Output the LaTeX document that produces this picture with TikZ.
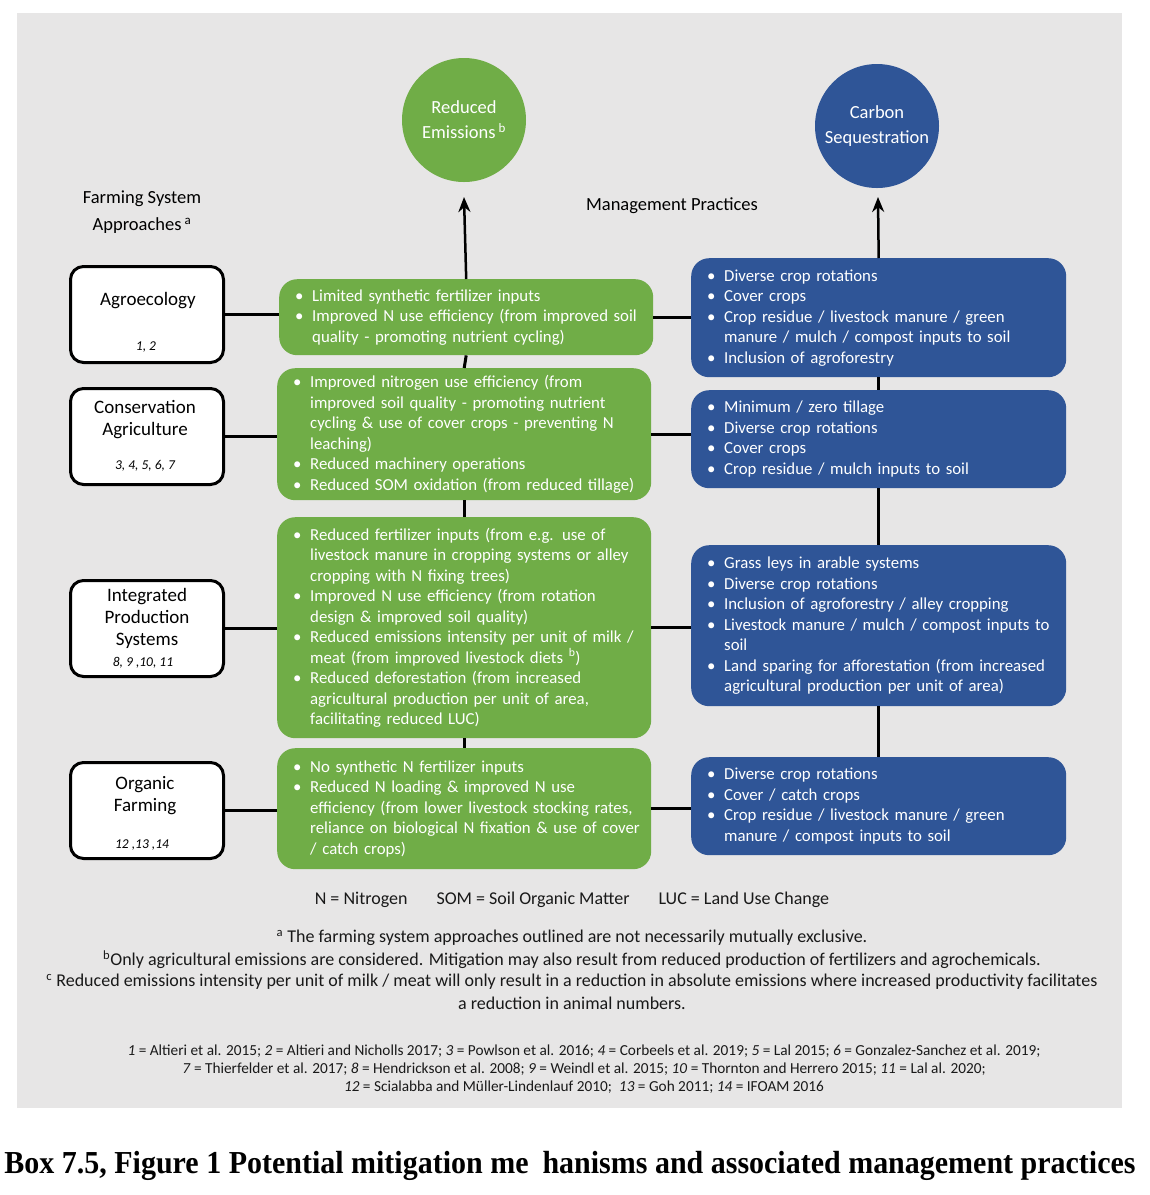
\documentclass[tikz,border=0pt]{standalone}
\usepackage{fontspec}
\setmainfont{Carlito}
\newfontfamily\capfont[FakeStretch=0.937]{Liberation Serif}
\usetikzlibrary{arrows.meta}
\definecolor{bgc}{HTML}{E7E6E6}
\definecolor{grc}{HTML}{70AD47}
\definecolor{blc}{HTML}{2F5597}
\newcommand{\bu}{\makebox[17pt][l]{\textbullet}}
\newcommand{\ct}{\hspace*{17pt}}
\newcommand{\boxfont}{\fontsize{16.8}{20.5}\selectfont}
\tikzset{
  gbox/.style={fill=grc, draw=none, rounded corners=18pt, text=white, align=left,
    inner xsep=16pt, inner ysep=0pt, anchor=north west, font=\boxfont},
  bbox/.style={gbox, fill=blc},
  wbox/.style={draw=black, line width=3pt, fill=white, rounded corners=13pt,
    minimum width=153pt, minimum height=96pt, anchor=north west, inner sep=0pt},
  wtitle/.style={align=center, font=\fontsize{19}{22}\selectfont, inner sep=0pt},
  wref/.style={font=\fontsize{13.5}{16}\selectfont\itshape, inner sep=0pt},
  circ/.style={circle, minimum size=124pt, inner sep=0pt, text=white, align=center,
    font=\fontsize{18.5}{25}\selectfont},
  conn/.style={draw=black, line width=3pt},
  uparrow/.style={draw=black, line width=2.5pt, -{Stealth[length=15pt,width=12pt]}},
  foot/.style={inner sep=0pt, font=\fontsize{18}{22}\selectfont, text=black!90},
  refl/.style={inner sep=0pt, font=\fontsize{15.3}{18}\selectfont, text=black!90}
}
\begin{document}
\begin{tikzpicture}[x=1pt,y=-1pt]
\useasboundingbox (0,0) rectangle (1150,1195);
\fill[white] (0,0) rectangle (1150,1195);
\fill[bgc] (17,13) rectangle (1122,1108);

% outcome circles
\node[circ, fill=grc] (re) at (464,120) {Reduced\\Emissions\,\textsuperscript{b}};
\node[circ, fill=blc] (cs) at (877,126) {Carbon\\Sequestration};
\coordinate (retip) at (464,197);
\coordinate (cstip) at (878,197);

% headings
\node[wtitle, font=\fontsize{18.5}{27}\selectfont] (fsa) at (142,212) {Farming System\\Approaches\,\textsuperscript{a}};
\node[wtitle, font=\fontsize{18.5}{22}\selectfont] (mp) at (672,206) {Management Practices};

% green boxes
\node[gbox, minimum width=374pt, minimum height=76pt, text width=342pt] (g1) at (279,279) {%
\mbox{\bu Limited synthetic fertilizer inputs}\\
\mbox{\bu Improved N use efficiency (from improved soil}\\
\mbox{\ct quality - promoting nutrient cycling)}};
\node[gbox, minimum width=374pt, minimum height=132pt, text width=342pt] (g2) at (277,368) {%
\mbox{\bu Improved nitrogen use efficiency (from}\\
\mbox{\ct improved soil quality - promoting nutrient}\\
\mbox{\ct cycling \& use of cover crops - preventing N}\\
\mbox{\ct leaching)}\\
\mbox{\bu Reduced machinery operations}\\
\mbox{\bu Reduced SOM oxidation (from reduced tillage)}};
\node[gbox, minimum width=374pt, minimum height=221pt, text width=342pt] (g3) at (277,517) {%
\mbox{\bu Reduced fertilizer inputs (from e.g. use of}\\
\mbox{\ct livestock manure in cropping systems or alley}\\
\mbox{\ct cropping with N fixing trees)}\\
\mbox{\bu Improved N use efficiency (from rotation}\\
\mbox{\ct design \& improved soil quality)}\\
\mbox{\bu Reduced emissions intensity per unit of milk /}\\
\mbox{\ct meat (from improved livestock diets \textsuperscript{b})}\\
\mbox{\bu Reduced deforestation (from increased}\\
\mbox{\ct agricultural production per unit of area,}\\
\mbox{\ct facilitating reduced LUC)}};
\node[gbox, minimum width=374pt, minimum height=121pt, text width=342pt] (g4) at (277,748) {%
\mbox{\bu No synthetic N fertilizer inputs}\\
\mbox{\bu Reduced N loading \& improved N use}\\
\mbox{\ct efficiency (from lower livestock stocking rates,}\\
\mbox{\ct reliance on biological N fixation \& use of cover}\\
\mbox{\ct / catch crops)}};

% blue boxes
\node[bbox, minimum width=375pt, minimum height=119pt, text width=343pt] (b1) at (691,258) {%
\mbox{\bu Diverse crop rotations}\\
\mbox{\bu Cover crops}\\
\mbox{\bu Crop residue / livestock manure / green}\\
\mbox{\ct manure / mulch / compost inputs to soil}\\
\mbox{\bu Inclusion of agroforestry}};
\node[bbox, minimum width=375pt, minimum height=98pt, text width=343pt] (b2) at (691,390) {%
\mbox{\bu Minimum / zero tillage}\\
\mbox{\bu Diverse crop rotations}\\
\mbox{\bu Cover crops}\\
\mbox{\bu Crop residue / mulch inputs to soil}};
\node[bbox, minimum width=375pt, minimum height=161pt, text width=343pt] (b3) at (691,545) {%
\mbox{\bu Grass leys in arable systems}\\
\mbox{\bu Diverse crop rotations}\\
\mbox{\bu Inclusion of agroforestry / alley cropping}\\
\mbox{\bu Livestock manure / mulch / compost inputs to}\\
\mbox{\ct soil}\\
\mbox{\bu Land sparing for afforestation (from increased}\\
\mbox{\ct agricultural production per unit of area)}};
\node[bbox, minimum width=375pt, minimum height=98pt, text width=343pt] (b4) at (691,757) {%
\mbox{\bu Diverse crop rotations}\\
\mbox{\bu Cover / catch crops}\\
\mbox{\bu Crop residue / livestock manure / green}\\
\mbox{\ct manure / compost inputs to soil}};

% white boxes
\node[wbox] (w1) at (69,265) {};
\node[wbox] (w2) at (69,387) {};
\node[wbox] (w3) at (69,579) {};
\node[wbox] (w4) at (69,761) {};
\node[wtitle] (t1) at (148,301) {Agroecology};
\node[wref] (r1) at (146,347) {1, 2};
\node[wtitle] (t2) at (145,420) {Conservation\\Agriculture};
\node[wref] (r2) at (145,466) {3, 4, 5, 6, 7};
\node[wtitle] (t3) at (147,618) {Integrated\\Production\\Systems};
\node[wref] (r3) at (143,663) {8, 9 ,10, 11};
\node[wtitle] (t4) at (145,796) {Organic\\Farming};
\node[wref] (r4) at (142,845) {12 ,13 ,14};

% connectors
\draw[uparrow] (g1.north) -- (retip);
\draw[uparrow] (b1.north) -- (cstip);
\draw[conn] (g1.south) -- (g2.north);
\draw[conn] (g2.south) -- (g3.north);
\draw[conn] (g3.south) -- (g4.north);
\draw[conn] (b1.south) -- (b2.north);
\draw[conn] (b2.south) -- (b3.north);
\draw[conn] (b3.south) -- (b4.north);
\foreach \i in {1,2,3,4} {
  \draw[conn] (w\i.east) -- (w\i.east -| g\i.west);
  \draw[conn] (g\i.east) -- (g\i.east -| b\i.west);
}

% legend and footnotes
\node[foot] (abbr) at (572,900) {N = Nitrogen\hspace{29pt}SOM = Soil Organic Matter\hspace{29pt}LUC = Land Use Change};
\node[foot] (fa) at (572,938) {\textsuperscript{a} The farming system approaches outlined are not necessarily mutually exclusive.};
\node[foot] (fb) at (572,960) {\textsuperscript{b}Only agricultural emissions are considered. Mitigation may also result from reduced production of fertilizers and agrochemicals.};
\node[foot] (fc) at (572,982) {\textsuperscript{c} Reduced emissions intensity per unit of milk / meat will only result in a reduction in absolute emissions where increased productivity facilitates};
\node[foot] (fc2) at (572,1003) {a reduction in animal numbers.};

% references
\node[refl] (ref1) at (584,1051) {\textit{1} = Altieri et al. 2015; \textit{2} = Altieri and Nicholls 2017; \textit{3} = Powlson et al. 2016; \textit{4} = Corbeels et al. 2019; \textit{5} = Lal 2015; \textit{6} = Gonzalez-Sanchez et al. 2019;};
\node[refl] (ref2) at (584,1069) {\textit{7} = Thierfelder et al. 2017; \textit{8} = Hendrickson et al. 2008; \textit{9} = Weindl et al. 2015; \textit{10} = Thornton and Herrero 2015; \textit{11} = Lal al. 2020;};
\node[refl] (ref3) at (584,1087) {\textit{12} = Scialabba and Müller-Lindenlauf 2010;\ \ \textit{13} = Goh 2011; \textit{14} = IFOAM 2016};

% caption
\node[inner sep=0pt, font=\capfont\bfseries\fontsize{32}{36}\selectfont] (cap) at (570,1166) {Box 7.5, Figure 1 Potential mitigation me\hspace{14pt}hanisms and associated management practices};
\end{tikzpicture}
\end{document}
